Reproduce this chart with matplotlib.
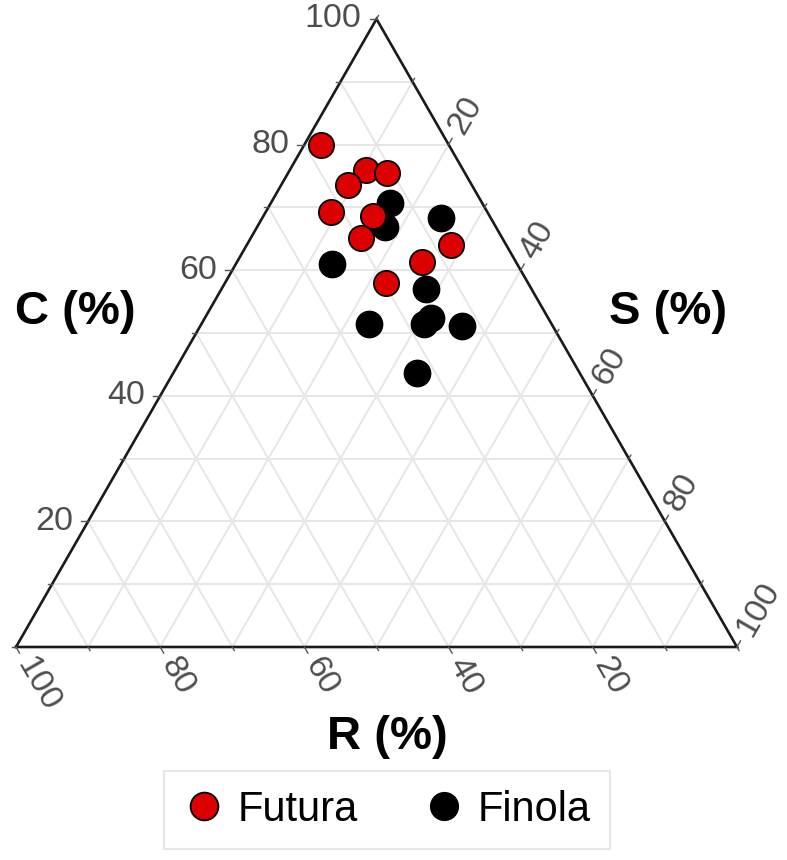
import numpy as np
import matplotlib
matplotlib.use('Agg')
import matplotlib.pyplot as plt
from matplotlib.lines import Line2D

plt.rcParams['font.family'] = ['Liberation Sans', 'DejaVu Sans']

# CSR strategy (%)
futura_C = [80.0, 76.0, 75.4, 73.6, 69.3, 68.7, 65.1, 64.0, 61.3, 58.0]
futura_S = [2.3, 10.6, 13.8, 9.2, 9.0, 15.2, 15.3, 28.3, 25.7, 22.3]
futura_R = [17.7, 13.4, 10.8, 17.2, 21.7, 16.1, 19.6, 7.7, 13.0, 19.7]

finola_C = [70.7, 68.3, 66.9, 61.0, 57.0, 51.4, 51.5, 52.4, 51.1, 43.7]
finola_S = [16.5, 24.8, 17.7, 13.3, 28.4, 23.2, 30.9, 31.3, 36.3, 33.7]
finola_R = [12.8, 6.9, 15.4, 25.7, 14.6, 25.4, 17.6, 16.3, 12.6, 22.6]

ticks = [0, 10, 20, 30, 40, 50, 60, 70, 80, 90, 100]
tick_labels = [20, 40, 60, 80, 100]

H = np.sqrt(3) / 2
PX = 1 / 721.0   # one pixel in data units


def proj(c, s, r):
    '''ternary (C top, R left, S right) -> cartesian'''
    c, s, r = np.asarray(c, float), np.asarray(s, float), np.asarray(r, float)
    tot = c + s + r
    return (s + c / 2) / tot, c / tot * H


fig = plt.figure(figsize=(7.87, 8.6), dpi=100)
ax = fig.add_axes([16 / 787, 1 - 647 / 860, 721 / 787, 628 / 860])
ax.set_xlim(0, 1)
ax.set_ylim(0, H)
ax.axis('off')

# grid
for v in ticks[1:-1]:
    f = v / 100
    x, y = proj([f, f], [0, 1 - f], [1 - f, 0])
    ax.plot(x, y, color='#e6e6e6', lw=1.4, zorder=1, clip_on=False)
    x, y = proj([0, 1 - f], [f, f], [1 - f, 0])
    ax.plot(x, y, color='#e6e6e6', lw=1.4, zorder=1, clip_on=False)
    x, y = proj([0, 1 - f], [1 - f, 0], [f, f])
    ax.plot(x, y, color='#e6e6e6', lw=1.4, zorder=1, clip_on=False)

# outline
ax.plot([0, 1, 0.5, 0], [0, 0, H, 0], color='#1a1a1a', lw=1.9, zorder=2,
        clip_on=False, solid_joinstyle='miter')

# ticks and labels
lab_col = '#4d4d4d'
tick_col = '#555555'
dr = np.array([0.5, -H])   # outward for R axis
ds = np.array([0.5, H])    # outward for S axis
for v in ticks:
    f = v / 100
    tl = (7 if v in tick_labels else 4) * PX
    # C axis, left edge
    x0, y0 = f / 2, f * H
    ax.plot([x0, x0 - tl], [y0, y0], color=tick_col, lw=1.0, clip_on=False)
    if v in tick_labels:
        ax.text(x0 - 15 * PX, y0, str(v), ha='right', va='center',
                fontsize=24.5, color=lab_col)
    # R axis, bottom edge
    x0, y0 = 1 - f, 0
    ax.plot([x0, x0 + dr[0] * tl], [y0, y0 + dr[1] * tl], color=tick_col,
            lw=1.0, clip_on=False)
    if v in tick_labels:
        ax.text(x0 + dr[0] * 15 * PX, y0 + dr[1] * 15 * PX, str(v),
                rotation=-60, rotation_mode='anchor', ha='left', va='center',
                fontsize=24.5, color=lab_col)
    # S axis, right edge
    x0, y0 = f + (1 - f) / 2, (1 - f) * H
    ax.plot([x0, x0 + ds[0] * tl], [y0, y0 + ds[1] * tl], color=tick_col,
            lw=1.0, clip_on=False)
    if v in tick_labels:
        ax.text(x0 + ds[0] * 15 * PX, y0 + ds[1] * 15 * PX, str(v),
                rotation=60, rotation_mode='anchor', ha='left', va='center',
                fontsize=24.5, color=lab_col)

# points
red = '#dd0000'
x, y = proj(finola_C, finola_S, finola_R)
ax.scatter(x, y, s=360, c='black', edgecolors='black', linewidths=1.0,
           zorder=5, clip_on=False)
x, y = proj(futura_C, futura_S, futura_R)
ax.scatter(x, y, s=330, c=red, edgecolors='black', linewidths=1.3,
           zorder=6, clip_on=False)

# axis titles
fig.text(75 / 787, 1 - 312 / 860, 'C (%)', ha='center', va='center',
         fontsize=34, fontweight='bold')
fig.text(668 / 787, 1 - 312 / 860, 'S (%)', ha='center', va='center',
         fontsize=34, fontweight='bold')
fig.text(387 / 787, 1 - 737 / 860, 'R (%)', ha='center', va='center',
         fontsize=34, fontweight='bold')

handles = [
    Line2D([], [], ls='', marker='o', markersize=20, markerfacecolor=red,
           markeredgecolor='black', markeredgewidth=1.3, label='Futura'),
    Line2D([], [], ls='', marker='o', markersize=20, markerfacecolor='black',
           markeredgecolor='black', label='Finola'),
]
leg = fig.legend(handles=handles, loc='center', ncol=2,
                 bbox_to_anchor=(387 / 787, 1 - 810 / 860), fontsize=30,
                 frameon=True, fancybox=False, edgecolor='#e0e0e0',
                 handletextpad=0.32, columnspacing=1.55, handlelength=1.0,
                 borderpad=0.45)
leg.get_frame().set_linewidth(1.5)

fig.savefig('out.png', dpi=100)
plt.close(fig)
